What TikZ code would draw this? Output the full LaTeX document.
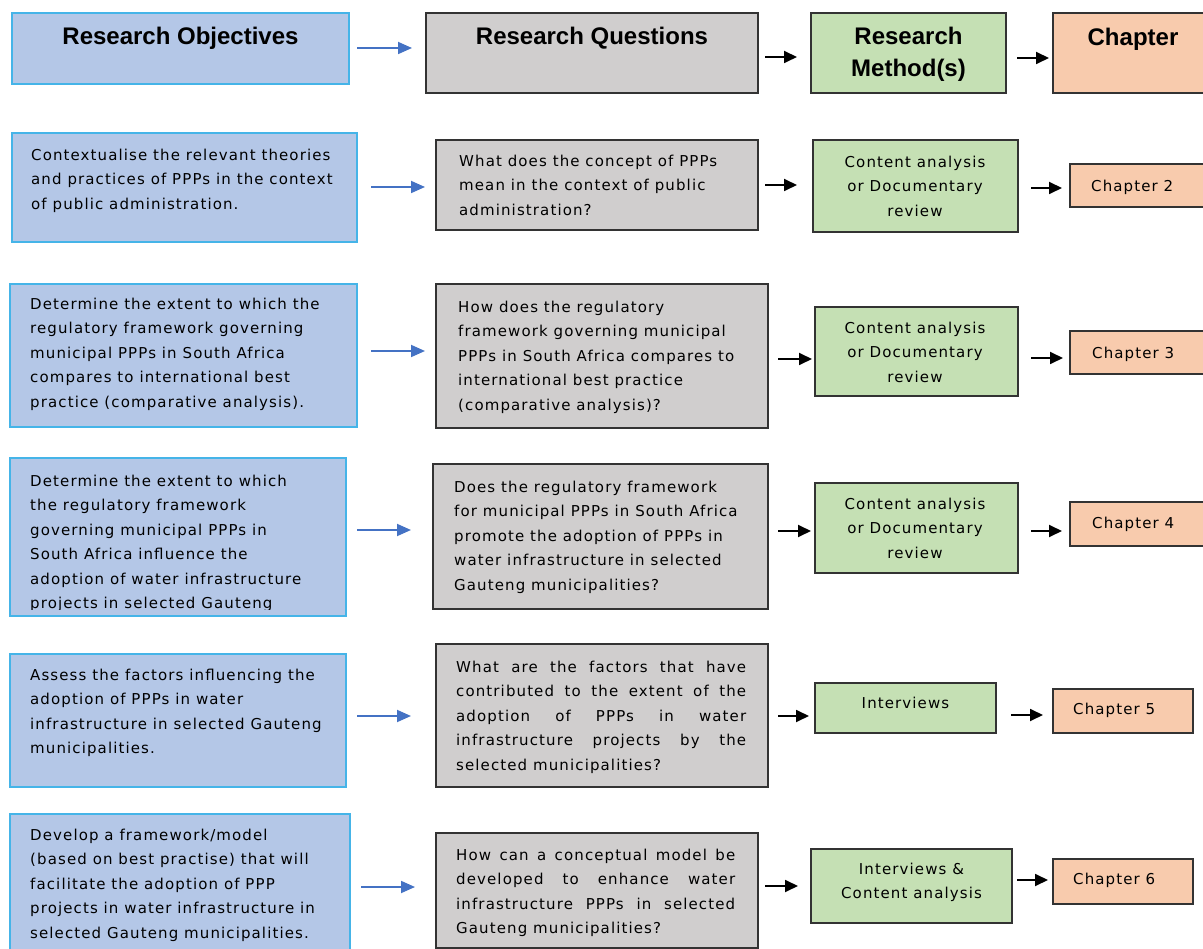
\documentclass[tikz,border=0pt]{standalone}
\usepackage{fontspec}
\setmainfont{DejaVu Sans}[LetterSpace=7.4]
\newfontfamily\headfont{Liberation Sans}
\usetikzlibrary{arrows.meta}

\definecolor{objfill}{HTML}{B4C7E7}
\definecolor{objline}{HTML}{45B4E8}
\definecolor{qfill}{HTML}{D0CECE}
\definecolor{mfill}{HTML}{C5E0B4}
\definecolor{cfill}{HTML}{F8CBAD}
\definecolor{edgeline}{HTML}{333333}
\definecolor{flowblue}{HTML}{4472C4}

% a filled panel given by its top-left and bottom-right corners
\newcommand\panel[6]{%
  \node[#2, minimum width={(#5-#3)*1pt}, minimum height={(#6-#4)*1pt}] (#1) at (#3,#4) {};}
% a horizontal arrow between two panels at height #4, with gaps #5 and #6
\newcommand\flowarrow[6]{%
  \draw[#1, shorten <=#5pt, shorten >=#6pt] (#2.east |- 0,#4) -- (#3.west |- 0,#4);}

\tikzset{
  panelbox/.style={rectangle, inner sep=0pt, outer sep=0pt, anchor=north west},
  objbox/.style={panelbox, fill=objfill, draw=objline, line width=2pt},
  qbox/.style={panelbox, fill=qfill, draw=edgeline, line width=1.3pt},
  mbox/.style={panelbox, fill=mfill, draw=edgeline, line width=1.3pt},
  chbox/.style={panelbox, fill=cfill, draw=edgeline, line width=1.3pt},
  body/.style={inner sep=0pt, font=\fontsize{15}{24.5}\selectfont, align=left, anchor=north west},
  bodyc/.style={body, align=center, anchor=north},
  head/.style={inner sep=0pt, font=\headfont\bfseries\fontsize{24}{32}\selectfont, align=center, anchor=north},
  blueflow/.style={-{Triangle[length=14pt,width=12pt]}, draw=flowblue, line width=1.8pt},
  blackflow/.style={-{Triangle[length=13pt,width=12pt]}, draw=black, line width=1.8pt},
}

\newcommand\jl[2]{\makebox[#1pt][s]{#2}}

\begin{document}
\begin{tikzpicture}[x=1pt, y=-1pt]
\clip (0,0) rectangle (1203,949);
\fill[white] (0,0) rectangle (1203,949);

% ---- header row ----
\panel{rohd}{objbox}{12}{13}{349}{84}
\panel{rqhd}{qbox}{426}{13}{758}{93}
\panel{rmhd}{mbox}{811}{13}{1006}{93}
\panel{chhd}{chbox}{1053}{13}{1215}{93}
\node[head] (rohdt) at (180.5,26.5) {Research Objectives};
\node[head] (rqhdt) at (592,26.5) {Research Questions};
\node[head] (rmhdt) at (908.5,26.5) {Research\\Method(s)};
\node[head] (chhdt) at (1133,27.5) {Chapter};

% ---- row 1 ----
\panel{ro1}{objbox}{12}{133}{357}{242}
\panel{rq1}{qbox}{436}{140}{758}{230}
\panel{rm1}{mbox}{813}{140}{1018}{232}
\panel{ch2}{chbox}{1070}{164}{1215}{207}
\node[body] (ro1t) at (31,148.5) {Contextualise the relevant theories\\and practices of PPPs in the context\\of public administration.};
\node[body] (rq1t) at (459,154.5) {What does the concept of PPPs\\mean in the context of public\\administration?};
\node[bodyc] (rm1t) at (915,155.5) {Content analysis\\or Documentary\\review};
\node[body] (ch2t) at (1091,179.5) {Chapter 2};

% ---- row 2 ----
\panel{ro2}{objbox}{10}{284}{357}{427}
\panel{rq2}{qbox}{436}{284}{768}{428}
\panel{rm2}{mbox}{815}{307}{1018}{396}
\panel{ch3}{chbox}{1070}{331}{1215}{374}
\node[body] (ro2t) at (30,297.5) {Determine the extent to which the\\regulatory framework governing\\municipal PPPs in South Africa\\compares to international best\\practice (comparative analysis).};
\node[body] (rq2t) at (458,300.5) {How does the regulatory\\framework governing municipal\\PPPs in South Africa compares to\\international best practice\\(comparative analysis)?};
\node[bodyc] (rm2t) at (915,321.5) {Content analysis\\or Documentary\\review};
\node[body] (ch3t) at (1092,346.5) {Chapter 3};

% ---- row 3 ----
\panel{ro3}{objbox}{10}{458}{346}{616}
\panel{rq3}{qbox}{433}{464}{768}{609}
\panel{rm3}{mbox}{815}{483}{1018}{573}
\panel{ch4}{chbox}{1070}{502}{1215}{546}
\begin{scope}
  \clip ([yshift=7pt]ro3.south west) rectangle (ro3.north east);
  \node[body] (ro3t) at (30,474.5) {Determine the extent to which\\the regulatory framework\\governing municipal PPPs in\\South Africa influence the\\adoption of water infrastructure\\projects in selected Gauteng};
\end{scope}
\node[body] (rq3t) at (454,480.5) {Does the regulatory framework\\for municipal PPPs in South Africa\\promote the adoption of PPPs in\\water infrastructure in selected\\Gauteng municipalities?};
\node[bodyc] (rm3t) at (915,497.5) {Content analysis\\or Documentary\\review};
\node[body] (ch4t) at (1092,516.5) {Chapter 4};

% ---- row 4 ----
\panel{ro4}{objbox}{10}{654}{346}{787}
\panel{rq4}{qbox}{436}{644}{768}{787}
\panel{rm4}{mbox}{815}{683}{996}{733}
\panel{ch5}{chbox}{1053}{689}{1193}{733}
\node[body] (ro4t) at (30,668.5) {Assess the factors influencing the\\adoption of PPPs in water\\infrastructure in selected Gauteng\\municipalities.};
\node[body] (rq4t) at (456,660.5) {\jl{290}{What are the factors that have}\\\jl{290}{contributed to the extent of the}\\\jl{290}{adoption of PPPs in water}\\\jl{290}{infrastructure projects by the}\\selected municipalities?};
\node[bodyc] (rm4t) at (905.5,696.5) {Interviews};
\node[body] (ch5t) at (1073,702.5) {Chapter 5};

% ---- row 5 ----
\panel{ro5}{objbox}{10}{814}{350}{965}
\panel{rq5}{qbox}{436}{833}{758}{948}
\panel{rm5}{mbox}{811}{849}{1012}{923}
\panel{ch6}{chbox}{1053}{859}{1193}{904}
\node[body] (ro5t) at (30,828.5) {Develop a framework/model\\(based on best practise) that will\\facilitate the adoption of PPP\\projects in water infrastructure in\\selected Gauteng municipalities.};
\node[body] (rq5t) at (456,848.5) {\jl{279}{How can a conceptual model be}\\\jl{279}{developed to enhance water}\\\jl{279}{infrastructure PPPs in selected}\\Gauteng municipalities?};
\node[bodyc] (rm5t) at (911.5,862.5) {Interviews \&\\Content analysis};
\node[body] (ch6t) at (1073,872.5) {Chapter 6};

% ---- connectors ----
\flowarrow{blueflow}{rohd}{rqhd}{48}{8}{14}
\flowarrow{blackflow}{rqhd}{rmhd}{57}{7}{14}
\flowarrow{blackflow}{rmhd}{chhd}{58}{11}{4}

\flowarrow{blueflow}{ro1}{rq1}{187}{14}{11}
\flowarrow{blackflow}{rq1}{rm1}{185}{7}{16}
\flowarrow{blackflow}{rm1}{ch2}{188}{13}{8}

\flowarrow{blueflow}{ro2}{rq2}{351}{14}{11}
\flowarrow{blackflow}{rq2}{rm2}{359}{10}{3}
\flowarrow{blackflow}{rm2}{ch3}{358}{13}{7}

\flowarrow{blueflow}{ro3}{rq3}{530}{11}{22}
\flowarrow{blackflow}{rq3}{rm3}{531}{10}{4}
\flowarrow{blackflow}{rm3}{ch4}{531}{13}{8}

\flowarrow{blueflow}{ro4}{rq4}{716}{11}{25}
\flowarrow{blackflow}{rq4}{rm4}{716}{10}{6}
\flowarrow{blackflow}{rm4}{ch5}{715}{15}{10}

\flowarrow{blueflow}{ro5}{rq5}{887}{11}{21}
\flowarrow{blackflow}{rq5}{rm5}{886}{7}{13}
\flowarrow{blackflow}{rm5}{ch6}{880}{5}{5}
\end{tikzpicture}
\end{document}
